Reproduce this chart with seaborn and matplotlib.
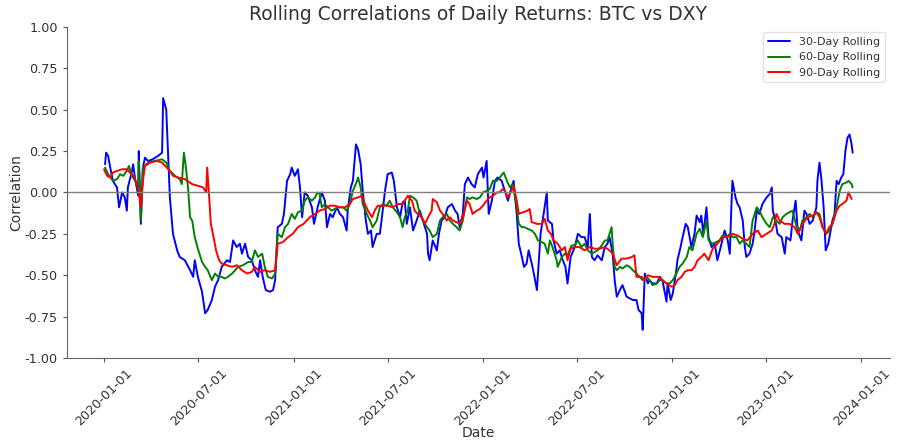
import matplotlib.dates as mdates
import matplotlib.pyplot as plt
import pandas as pd
import seaborn as sns

START = pd.Timestamp("2020-01-01")

# offsets are days after START
blue_days = [2, 4, 8, 12, 17, 25, 29, 35, 40, 44, 46, 54, 56, 60, 66, 67, 71, 75, 79, 85,
             94, 104, 112, 114, 120, 123, 127, 133, 141, 146, 156, 166, 172, 175, 181, 189, 195, 200, 208, 214,
             220, 227, 237, 243, 249, 256, 262, 266, 272, 278, 285, 291, 297, 301, 306, 312, 320, 326, 330, 335,
             343, 347, 353, 359, 362, 368, 374, 378, 382, 387, 393, 401, 405, 412, 420, 426, 430, 436, 441, 449,
             455, 461, 468, 470, 476, 480, 486, 490, 495, 499, 505, 509, 515, 518, 526, 532, 536, 542, 547, 555,
             559, 565, 571, 576, 580, 584, 590, 596, 603, 609, 615, 623, 625, 628, 634, 642, 646, 651, 657, 663,
             671, 677, 682, 686, 692, 696, 702, 709, 715, 721, 729, 732, 738, 742, 748, 754, 759, 767, 773, 779,
             786, 790, 796, 800, 806, 810, 815, 819, 825, 829, 835, 837, 842, 846, 854, 856, 864, 867, 873, 879,
             885, 890, 894, 900, 908, 914, 921, 927, 933, 937, 941, 946, 952, 960, 966, 971, 975, 981, 985, 989,
             995, 1000, 1008, 1014, 1020, 1027, 1031, 1037, 1039, 1043, 1049, 1052, 1058, 1066, 1072, 1077, 1085, 1087, 1093, 1097,
             1103, 1106, 1112, 1116, 1122, 1126, 1133, 1139, 1143, 1149, 1152, 1156, 1162, 1166, 1172, 1178, 1183, 1191, 1197, 1203,
             1207, 1210, 1212, 1218, 1222, 1226, 1232, 1236, 1239, 1245, 1251, 1255, 1259, 1264, 1270, 1278, 1284, 1288, 1290, 1295,
             1299, 1307, 1313, 1316, 1324, 1328, 1334, 1338, 1345, 1351, 1355, 1361, 1367, 1374, 1376, 1380, 1384, 1388, 1392, 1397,
             1405, 1409, 1413, 1417, 1422, 1426, 1430, 1434, 1438, 1442, 1444]
blue_corr = [0.17, 0.24, 0.22, 0.15, 0.07, 0.03, -0.09, 0.0, -0.03, -0.11, 0.03, 0.13, 0.17, 0.08, -0.02, 0.25, -0.19, 0.15, 0.21, 0.19,
             0.20, 0.22, 0.24, 0.57, 0.50, 0.27, -0.03, -0.25, -0.35, -0.39, -0.41, -0.47, -0.51, -0.41, -0.51, -0.60, -0.73, -0.71, -0.65, -0.57,
             -0.53, -0.45, -0.41, -0.42, -0.29, -0.33, -0.31, -0.37, -0.31, -0.39, -0.41, -0.47, -0.51, -0.41, -0.51, -0.59, -0.60, -0.59, -0.53, -0.21,
             -0.19, -0.13, 0.07, 0.11, 0.15, 0.10, 0.14, 0.03, -0.15, 0.0, -0.02, -0.09, -0.19, -0.09, 0.0, -0.05, -0.21, -0.13, -0.15, -0.09,
             -0.13, -0.15, -0.23, -0.11, 0.03, 0.07, 0.29, 0.26, 0.17, 0.01, -0.17, -0.25, -0.23, -0.33, -0.25, -0.25, -0.15, 0.01, 0.11, 0.12,
             0.07, -0.09, -0.15, -0.06, -0.05, -0.19, -0.09, -0.23, -0.17, -0.11, -0.17, -0.25, -0.37, -0.41, -0.29, -0.35, -0.25, -0.17, -0.15, -0.09,
             -0.07, -0.11, -0.13, -0.21, -0.13, 0.05, 0.09, 0.05, 0.03, 0.11, 0.15, 0.09, 0.19, -0.13, -0.05, 0.07, 0.09, 0.07, 0.01, -0.05,
             0.03, 0.07, -0.13, -0.31, -0.39, -0.45, -0.43, -0.35, -0.43, -0.49, -0.59, -0.49, -0.25, -0.17, 0.0, -0.17, -0.19, -0.29, -0.37, -0.35,
             -0.41, -0.45, -0.55, -0.39, -0.33, -0.25, -0.27, -0.27, -0.33, -0.13, -0.39, -0.41, -0.38, -0.41, -0.33, -0.31, -0.27, -0.37, -0.53, -0.63,
             -0.59, -0.56, -0.63, -0.64, -0.65, -0.65, -0.71, -0.73, -0.83, -0.49, -0.55, -0.53, -0.55, -0.55, -0.51, -0.53, -0.66, -0.55, -0.65, -0.61,
             -0.49, -0.41, -0.33, -0.27, -0.19, -0.21, -0.33, -0.25, -0.14, -0.18, -0.14, -0.25, -0.09, -0.27, -0.33, -0.31, -0.41, -0.31, -0.23, -0.29,
             -0.37, -0.09, 0.07, -0.03, -0.07, -0.09, -0.17, -0.33, -0.39, -0.37, -0.31, -0.23, -0.11, -0.13, -0.07, -0.03, -0.01, 0.03, -0.11, -0.17,
             -0.25, -0.27, -0.37, -0.27, -0.29, -0.17, -0.05, -0.23, -0.29, -0.11, -0.13, -0.19, -0.17, -0.09, 0.07, 0.18, 0.07, -0.09, -0.35, -0.31,
             -0.17, -0.13, 0.07, 0.05, 0.09, 0.11, 0.25, 0.33, 0.35, 0.29, 0.24]

green_days = [2, 8, 17, 25, 31, 37, 44, 48, 54, 60, 66, 67, 71, 75, 85, 98, 112, 120, 127, 137,
              146, 150, 154, 158, 162, 166, 170, 175, 181, 189, 195, 200, 208, 214, 220, 227, 233, 239, 247, 253,
              258, 268, 278, 285, 291, 297, 305, 310, 316, 324, 330, 335, 343, 349, 355, 362, 368, 374, 382, 387,
              393, 401, 407, 412, 416, 420, 426, 432, 439, 445, 451, 461, 468, 474, 480, 488, 490, 495, 499, 507,
              513, 518, 526, 532, 538, 545, 551, 557, 565, 571, 576, 580, 586, 590, 596, 603, 609, 615, 623, 628,
              634, 642, 648, 653, 661, 667, 673, 680, 686, 692, 700, 705, 711, 719, 725, 731, 738, 744, 750, 758,
              763, 771, 777, 783, 788, 796, 800, 806, 811, 817, 825, 831, 837, 844, 850, 856, 860, 865, 873, 875,
              883, 889, 894, 902, 908, 914, 921, 927, 933, 941, 946, 952, 960, 966, 971, 979, 981, 985, 989, 995,
              1000, 1008, 1014, 1020, 1027, 1033, 1039, 1047, 1052, 1058, 1066, 1072, 1077, 1085, 1091, 1097, 1104, 1110, 1116, 1124,
              1129, 1135, 1143, 1149, 1155, 1162, 1166, 1174, 1181, 1187, 1193, 1201, 1207, 1212, 1220, 1226, 1232, 1239, 1245, 1251,
              1259, 1264, 1270, 1278, 1284, 1290, 1297, 1303, 1309, 1316, 1322, 1328, 1336, 1342, 1347, 1355, 1361, 1367, 1374, 1380,
              1386, 1393, 1399, 1405, 1413, 1419, 1424, 1432, 1436, 1442, 1444]
green_corr = [0.15, 0.11, 0.07, 0.08, 0.11, 0.10, 0.13, 0.16, 0.10, 0.07, 0.03, 0.19, -0.17, 0.15, 0.18, 0.19, 0.20, 0.18, 0.13, 0.10,
              0.08, 0.05, 0.24, 0.15, 0.03, -0.15, -0.17, -0.27, -0.34, -0.42, -0.45, -0.47, -0.53, -0.49, -0.51, -0.51, -0.52, -0.51, -0.49, -0.47,
              -0.45, -0.44, -0.42, -0.42, -0.35, -0.39, -0.37, -0.45, -0.51, -0.52, -0.49, -0.25, -0.27, -0.21, -0.19, -0.13, -0.16, -0.12, -0.11, -0.05,
              -0.03, -0.05, -0.03, 0.0, -0.01, -0.09, -0.07, -0.09, -0.11, -0.10, -0.09, -0.09, -0.11, -0.07, 0.01, 0.07, 0.09, 0.03, -0.07, -0.13,
              -0.17, -0.21, -0.17, -0.09, -0.07, -0.08, -0.05, -0.09, -0.12, -0.15, -0.21, -0.15, -0.11, -0.02, -0.03, -0.05, -0.13, -0.17, -0.21, -0.23,
              -0.27, -0.25, -0.17, -0.15, -0.13, -0.17, -0.19, -0.21, -0.23, -0.17, -0.03, -0.04, -0.03, -0.04, -0.03, 0.0, 0.01, 0.02, 0.07, 0.07,
              0.09, 0.12, 0.07, 0.03, 0.05, -0.09, -0.19, -0.21, -0.21, -0.22, -0.23, -0.25, -0.29, -0.30, -0.31, -0.37, -0.29, -0.33, -0.41, -0.45,
              -0.39, -0.37, -0.38, -0.32, -0.32, -0.29, -0.33, -0.31, -0.35, -0.37, -0.36, -0.35, -0.32, -0.29, -0.29, -0.21, -0.31, -0.45, -0.47, -0.45,
              -0.46, -0.44, -0.45, -0.47, -0.49, -0.51, -0.53, -0.51, -0.53, -0.56, -0.55, -0.53, -0.53, -0.55, -0.55, -0.53, -0.49, -0.45, -0.43, -0.39,
              -0.33, -0.35, -0.25, -0.22, -0.27, -0.17, -0.29, -0.31, -0.30, -0.29, -0.26, -0.27, -0.25, -0.27, -0.27, -0.31, -0.29, -0.31, -0.33, -0.17,
              -0.09, -0.11, -0.15, -0.19, -0.21, -0.15, -0.17, -0.19, -0.15, -0.13, -0.12, -0.11, -0.21, -0.23, -0.17, -0.15, -0.13, -0.15, -0.12, -0.13,
              -0.21, -0.25, -0.23, -0.19, -0.09, 0.01, 0.05, 0.06, 0.07, 0.05, 0.03]

red_days = [0, 6, 12, 17, 25, 35, 44, 50, 56, 64, 67, 71, 75, 79, 89, 102, 112, 121, 127, 133,
            143, 156, 170, 181, 191, 197, 199, 202, 206, 210, 216, 222, 227, 237, 247, 256, 266, 276, 285, 291,
            301, 310, 320, 330, 335, 345, 355, 364, 374, 385, 397, 407, 416, 426, 436, 445, 455, 465, 474, 480,
            490, 497, 503, 509, 517, 522, 528, 538, 547, 557, 567, 576, 586, 594, 599, 605, 613, 619, 625, 632,
            634, 642, 648, 653, 661, 667, 673, 680, 686, 692, 700, 705, 711, 719, 725, 731, 738, 744, 750, 758,
            763, 769, 773, 779, 786, 790, 796, 800, 808, 817, 821, 825, 835, 844, 850, 856, 862, 867, 875, 883,
            889, 894, 900, 908, 917, 927, 937, 946, 956, 966, 975, 981, 989, 998, 1008, 1018, 1023, 1027, 1037, 1043,
            1049, 1058, 1068, 1077, 1085, 1095, 1101, 1106, 1114, 1120, 1126, 1133, 1139, 1145, 1152, 1158, 1166, 1174, 1183, 1193,
            1203, 1212, 1222, 1232, 1241, 1251, 1261, 1268, 1278, 1288, 1293, 1297, 1303, 1313, 1322, 1332, 1338, 1347, 1357, 1367,
            1374, 1380, 1386, 1393, 1399, 1405, 1413, 1419, 1424, 1432, 1436, 1442]
red_corr = [0.14, 0.10, 0.09, 0.12, 0.13, 0.14, 0.14, 0.12, 0.10, 0.05, 0.0, -0.09, 0.07, 0.16, 0.18, 0.19, 0.18, 0.15, 0.13, 0.10,
            0.09, 0.08, 0.05, 0.04, 0.03, 0.0, 0.15, 0.01, -0.19, -0.25, -0.35, -0.41, -0.43, -0.44, -0.45, -0.44, -0.47, -0.49, -0.48, -0.45,
            -0.48, -0.47, -0.48, -0.47, -0.31, -0.30, -0.27, -0.25, -0.21, -0.19, -0.15, -0.13, -0.11, -0.10, -0.08, -0.08, -0.09, -0.09, -0.07, -0.04,
            -0.03, -0.02, -0.07, -0.11, -0.15, -0.11, -0.08, -0.08, -0.08, -0.09, -0.07, -0.07, -0.02, -0.05, -0.11, -0.13, -0.15, -0.19, -0.15, -0.11,
            -0.04, -0.06, -0.11, -0.13, -0.17, -0.15, -0.17, -0.18, -0.19, -0.15, -0.05, -0.07, -0.13, -0.11, -0.10, -0.08, -0.05, -0.03, -0.02, 0.0,
            0.0, 0.02, 0.01, -0.03, 0.01, 0.04, -0.05, -0.13, -0.12, -0.11, -0.10, -0.18, -0.19, -0.19, -0.16, -0.23, -0.25, -0.29, -0.31, -0.35,
            -0.33, -0.41, -0.34, -0.33, -0.33, -0.35, -0.33, -0.34, -0.34, -0.33, -0.35, -0.37, -0.44, -0.40, -0.40, -0.39, -0.38, -0.51, -0.51, -0.53,
            -0.50, -0.51, -0.51, -0.53, -0.55, -0.57, -0.56, -0.53, -0.51, -0.48, -0.47, -0.47, -0.45, -0.41, -0.39, -0.37, -0.41, -0.34, -0.31, -0.27,
            -0.27, -0.25, -0.26, -0.28, -0.29, -0.25, -0.23, -0.27, -0.25, -0.23, -0.19, -0.13, -0.17, -0.19, -0.19, -0.21, -0.25, -0.19, -0.15, -0.14,
            -0.12, -0.15, -0.21, -0.25, -0.21, -0.19, -0.11, -0.08, -0.07, -0.05, 0.0, -0.04]

y_ticks = [-1.0, -0.75, -0.5, -0.25, 0.0, 0.25, 0.5, 0.75, 1.0]

series = [
    ("30-Day Rolling", blue_days, blue_corr, "blue"),
    ("60-Day Rolling", green_days, green_corr, "green"),
    ("90-Day Rolling", red_days, red_corr, "red"),
]

sns.set_style("ticks")
plt.rcParams["text.color"] = "#333333"
plt.rcParams["axes.labelcolor"] = "#333333"
plt.rcParams["xtick.color"] = "#555555"
plt.rcParams["ytick.color"] = "#555555"
plt.rcParams["xtick.labelcolor"] = "#333333"
plt.rcParams["ytick.labelcolor"] = "#333333"

fig, ax = plt.subplots(figsize=(9, 4.48), dpi=100)
fig.subplots_adjust(left=0.074, right=0.989, bottom=0.201, top=0.94)

for label, days, corr, color in series:
    dates = START + pd.to_timedelta(days, unit="D")
    sns.lineplot(x=dates, y=corr, label=label, color=color, linewidth=1.4, ax=ax)

ax.axhline(0, color="gray", linewidth=1)

ax.set_ylim(-1, 1)
ax.set_yticks(y_ticks)
ax.yaxis.set_major_formatter(plt.FormatStrFormatter("%.2f"))
ax.xaxis.set_major_locator(mdates.MonthLocator(bymonth=[1, 7]))
ax.xaxis.set_major_formatter(mdates.DateFormatter("%Y-%m-%d"))
ax.tick_params(axis="both", labelsize=9.2, length=3, width=0.8)
ax.tick_params(axis="x", labelrotation=45)

ax.set_title("Rolling Correlations of Daily Returns: BTC vs DXY", fontsize=13.5, pad=5)
ax.set_xlabel("Date", fontsize=10, labelpad=-2)
ax.set_ylabel("Correlation", fontsize=10, labelpad=1)

for side in ("left", "bottom"):
    ax.spines[side].set_color("#666666")
sns.despine(ax=ax)

ax.legend(loc="upper right", fontsize=8, frameon=True, edgecolor="#dddddd")

fig.savefig("out.png", dpi=100)
plt.close(fig)
